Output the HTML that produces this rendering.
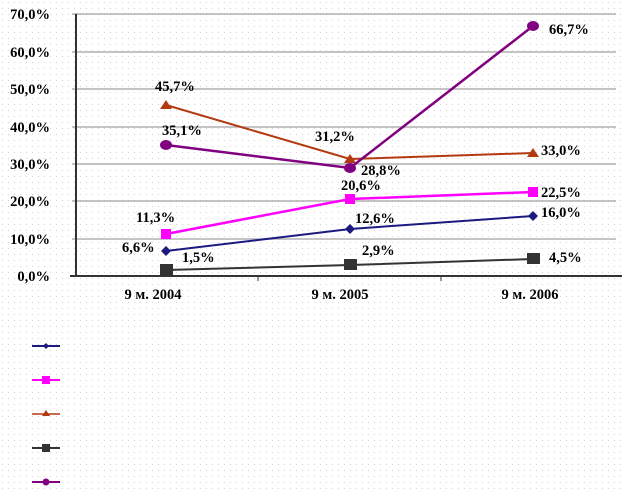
<!DOCTYPE html>
<html><head><meta charset="utf-8"><style>
body{margin:0;background:#fff}
svg{display:block}
text{font-family:"Liberation Serif",serif;font-weight:bold;font-size:14.5px;fill:#000}
</style></head><body>
<svg width="624" height="492" viewBox="0 0 624 492">
<defs><pattern id="d" width="6" height="6" patternUnits="userSpaceOnUse"><rect x="2" y="2" width="1" height="1" fill="#d4d4d4"/></pattern></defs>
<rect width="624" height="492" fill="url(#d)"/>
<g stroke="#b0b0b0" stroke-width="1.5">
<line x1="72" y1="14" x2="616" y2="14"/><line x1="72" y1="52" x2="616" y2="52"/>
<line x1="72" y1="89" x2="616" y2="89"/><line x1="72" y1="127" x2="616" y2="127"/>
<line x1="72" y1="164" x2="616" y2="164"/><line x1="72" y1="201" x2="616" y2="201"/>
<line x1="72" y1="239" x2="616" y2="239"/>
</g>
<line x1="76" y1="14" x2="76" y2="277" stroke="#333" stroke-width="2"/>
<line x1="70" y1="276" x2="622" y2="276" stroke="#333" stroke-width="2"/>
<line x1="258" y1="276" x2="258" y2="281" stroke="#333"/><line x1="441" y1="276" x2="441" y2="281" stroke="#333"/>
<g text-anchor="end">
<text x="50" y="19">70,0%</text><text x="50" y="57">60,0%</text><text x="50" y="94">50,0%</text>
<text x="50" y="132">40,0%</text><text x="50" y="169">30,0%</text><text x="50" y="206">20,0%</text>
<text x="50" y="244">10,0%</text><text x="50" y="281">0,0%</text>
</g>
<g text-anchor="middle"><text x="153" y="299">9 м. 2004</text><text x="340" y="299">9 м. 2005</text><text x="530" y="299">9 м. 2006</text></g>
<polyline points="166,270 350,265 533,259" fill="none" stroke="#333" stroke-width="2"/>
<rect x="160" y="264" width="13" height="11" fill="#333"/><rect x="344" y="259" width="13" height="11" fill="#333"/><rect x="527" y="253" width="13" height="11" fill="#333"/>
<polyline points="166,251 350,229 533,216" fill="none" stroke="#1a1a80" stroke-width="2"/>
<g fill="#1a1a80"><path d="M166,246l5,5-5,5-5-5z"/><path d="M350,224l5,5-5,5-5-5z"/><path d="M533,211l5,5-5,5-5-5z"/></g>
<polyline points="166,234 350,199 533,192" fill="none" stroke="#ff00ff" stroke-width="2.5"/>
<g fill="#ff00ff"><rect x="161" y="229" width="10" height="10"/><rect x="345" y="194" width="10" height="10"/><rect x="528" y="187" width="10" height="10"/></g>
<polyline points="166,105 350,159 533,153" fill="none" stroke="#b33a10" stroke-width="2"/>
<g fill="#b33a10"><path d="M166,100l6,9h-12z"/><path d="M350,154l6,9h-12z"/><path d="M533,148l6,9h-12z"/></g>
<polyline points="166,145 350,168 533,26" fill="none" stroke="#800080" stroke-width="2.5"/>
<g fill="#800080"><ellipse cx="166" cy="145" rx="6" ry="5"/><ellipse cx="350" cy="168" rx="6" ry="5"/><ellipse cx="533" cy="26" rx="6" ry="5"/></g>
<text x="155" y="91">45,7%</text><text x="162" y="135">35,1%</text><text x="136" y="222">11,3%</text>
<text x="122" y="252">6,6%</text><text x="182" y="262">1,5%</text>
<text x="315" y="141">31,2%</text><text x="361" y="175">28,8%</text><text x="341" y="190">20,6%</text>
<text x="355" y="223">12,6%</text><text x="362" y="255">2,9%</text>
<text x="549" y="34">66,7%</text><text x="541" y="155">33,0%</text><text x="541" y="197">22,5%</text>
<text x="541" y="217">16,0%</text><text x="549" y="262">4,5%</text>
<line x1="32" y1="346" x2="60" y2="346" stroke="#1a1a80" stroke-width="2"/><path d="M46,343l3,3-3,3-3-3z" fill="#1a1a80"/>
<line x1="32" y1="380" x2="60" y2="380" stroke="#ff00ff" stroke-width="2"/><rect x="42" y="376" width="8" height="8" fill="#ff00ff"/>
<line x1="32" y1="414" x2="60" y2="414" stroke="#b33a10" stroke-width="1.5"/><path d="M46,410l4,6h-8z" fill="#b33a10"/>
<line x1="32" y1="448" x2="60" y2="448" stroke="#333" stroke-width="2"/><rect x="42" y="444" width="8" height="8" fill="#333"/>
<line x1="32" y1="482" x2="60" y2="482" stroke="#800080" stroke-width="2"/><circle cx="46" cy="482" r="3.5" fill="#800080"/>
</svg>
</body></html>
